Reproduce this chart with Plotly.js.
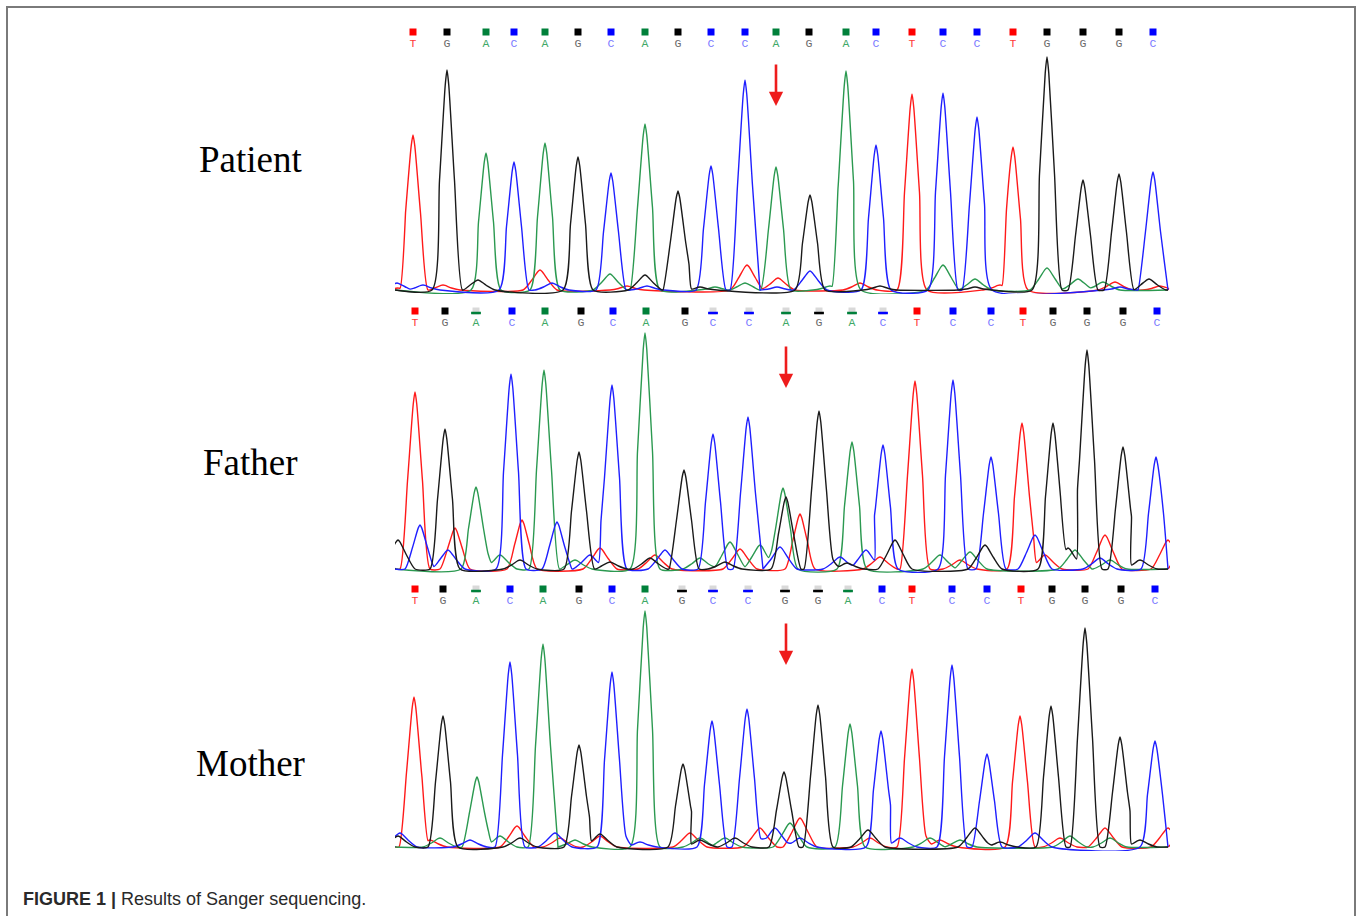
<!DOCTYPE html>
<html>
<head>
<meta charset="utf-8">
<script src="https://cdn.plot.ly/plotly-3.0.1.min.js"></script>
<style>
html,body{margin:0;padding:0;background:#fff;}
#chart{width:1360px;height:916px;}
</style>
</head>
<body>
<div id="chart"></div>
<script>
// ---------- DATA ----------
const panelNames = ["Patient", "Father", "Mother"];

const patientBases = ["T","G","A","C","A","G","C","A","G","C","C","A","G","A","C","T","C","C","T","G","G","G","C"];
const fatherBases  = ["T","G","A","C","A","G","C","A","G","C","C","A","G","A","C","T","C","C","T","G","G","G","C"];
const motherBases  = ["T","G","A","C","A","G","C","A","G","C","C","G","G","A","C","T","C","C","T","G","G","G","C"];

const patientBasePos = [413,447,486,514,545,578,611,645,678,711,745,776,809,846,876,912,943,977,1013,1047,1083,1119,1153];
const fatherBasePos  = [415,445,476,512,545,581,613,646,685,713,749,786,819,852,883,917,953,991,1023,1053,1087,1123,1157];
const motherBasePos  = [415,443,476,510,543,579,612,645,682,713,748,785,818,848,882,912,952,987,1021,1052,1085,1121,1155];

const patientQual = [1,1,1,1,1,1,1,1,1,1,1,1,1,1,1,1,1,1,1,1,1,1,1];
const fatherQual  = [1,1,0,1,1,1,1,1,1,0,0,0,0,0,0,1,1,1,1,1,1,1,1];
const motherQual  = [1,1,0,1,1,1,1,1,0,0,0,0,0,0,1,1,1,1,1,1,1,1,1];

// peaks per dye channel: [scan position, signal height]
const patientT = [[398,3],[413,156],[443,6],[540,21],[627,5],[747,26],[778,13],[860,8],[912,197],[1000,6],[1013,144],[1115,9],[1160,5]];
const patientG = [[447,221],[478,11],[578,134],[645,16],[678,100],[700,4],[810,96],[880,5],[975,4],[1047,234],[1083,111],[1119,117],[1149,12]];
const patientA = [[486,138],[545,148],[610,17],[645,167],[715,4],[745,8],[776,124],[830,5],[846,220],[943,26],[975,12],[1047,23],[1078,12],[1103,9]];
const patientC = [[397,8],[423,6],[514,129],[552,8],[611,118],[647,5],[711,125],[745,211],[777,4],[810,20],[876,146],[943,198],[977,174],[1120,4],[1153,119]];

const fatherT = [[415,178],[455,42],[522,50],[600,22],[655,15],[740,21],[800,56],[880,13],[915,189],[960,10],[1022,147],[1045,15],[1105,35],[1168,30]];
const fatherG = [[398,30],[445,141],[520,10],[579,118],[610,8],[650,12],[684,100],[725,8],[786,73],[819,159],[847,7],[895,30],[985,25],[1053,147],[1068,22],[1087,220],[1123,123],[1140,10]];
const fatherA = [[476,83],[500,15],[544,200],[575,10],[645,237],[700,12],[730,28],[760,25],[783,82],[852,128],[940,15],[970,18],[1075,20],[1110,10]];
const fatherC = [[420,45],[448,20],[511,196],[557,48],[590,15],[612,185],[665,20],[713,136],[748,153],[780,23],[840,13],[866,20],[883,125],[953,190],[991,113],[1035,35],[1100,12],[1156,113]];

const motherT = [[414,151],[430,8],[517,22],[560,10],[600,12],[690,15],[760,20],[800,30],[870,10],[912,179],[940,8],[1020,132],[1060,10],[1105,20],[1168,20]];
const motherG = [[398,12],[443,132],[520,10],[579,103],[600,14],[683,84],[700,8],[735,10],[784,76],[818,143],[868,18],[975,20],[1000,6],[1051,142],[1085,220],[1120,111],[1140,8]];
const motherA = [[440,10],[477,71],[500,12],[543,204],[575,8],[645,237],[700,10],[725,10],[790,25],[850,124],[930,10],[960,8],[1070,12],[1110,10]];
const motherC = [[400,15],[470,8],[510,186],[555,15],[612,176],[640,6],[712,127],[747,139],[775,20],[800,10],[881,117],[900,10],[952,183],[987,94],[1035,15],[1155,107]];

// ---------- STYLE ----------
const dyeColor  = {T:"#ff1a1a", G:"#1a1a1a", A:"#2b9950", C:"#1f1fff"};
const boxColor  = {T:"#ff0000", G:"#000000", A:"#00803a", C:"#0000ff"};
const textColor = {T:"#ff3b3b", G:"#6a6a6a", A:"#3fa868", C:"#7a7aff"};

const W = 1360, H = 916;
const X0 = 395, X1 = 1170;
const YMIN = -3, YMAX = 266;
const panels = [
  {name:panelNames[0], base:291, bases:patientBases, pos:patientBasePos, q:patientQual, ch:{T:patientT,G:patientG,A:patientA,C:patientC}, arrowX:776, arrowTip:106, labelY:160},
  {name:panelNames[1], base:570, bases:fatherBases,  pos:fatherBasePos,  q:fatherQual,  ch:{T:fatherT,G:fatherG,A:fatherA,C:fatherC},   arrowX:786, arrowTip:388, labelY:462},
  {name:panelNames[2], base:848, bases:motherBases,  pos:motherBasePos,  q:motherQual,  ch:{T:motherT,G:motherG,A:motherA,C:motherC},   arrowX:786, arrowTip:665, labelY:763}
];

function halfWidth(h){ return h < 40 ? 17 : 15; }

function buildCurve(peaks){
  const p = peaks.slice().sort((a,b)=>a[0]-b[0]);
  const xs=[X0], ys=[1];
  for(let i=0;i<p.length;i++){
    const x = p[i][0], h = p[i][1], w = halfWidth(h);
    const prev = p[i-1], next = p[i+1];
    const joinPrev = prev && (x-prev[0]) < (w + halfWidth(prev[1]));
    const joinNext = next && (next[0]-x) < (w + halfWidth(next[1]));
    if(!joinPrev){ xs.push(Math.max(X0, x-w)); ys.push(1); }
    if(!prev || (x-prev[0]) >= w){ xs.push(x - w*0.5); ys.push(Math.max(1,h*0.5)); }
    xs.push(x - w*0.12); ys.push(h*0.93);
    xs.push(x); ys.push(h);
    xs.push(x + w*0.12); ys.push(h*0.93);
    if(!next || (next[0]-x) >= w){ xs.push(x + w*0.5); ys.push(Math.max(1,h*0.5)); }
    if(joinNext){
      const gap = next[0]-x, wn = halfWidth(next[1]);
      const v = Math.max(1, h*(1-gap/2/w), next[1]*(1-gap/2/wn));
      xs.push((x+next[0])/2); ys.push(v);
    } else {
      xs.push(Math.min(X1-2, x+w)); ys.push(1);
    }
  }
  xs.push(X1-2); ys.push(1);
  return {xs, ys};
}

const traces = [];
const layout = {
  width:W, height:H, margin:{l:0,r:0,t:0,b:0},
  paper_bgcolor:"#fff", plot_bgcolor:"rgba(0,0,0,0)",
  showlegend:false, shapes:[], annotations:[]
};

panels.forEach((pn, k)=>{
  const sx = k===0 ? "" : String(k+1);
  const xa = "x"+sx, ya = "y"+sx;
  const bottomPx = pn.base - YMIN, topPx = pn.base - YMAX;
  layout["xaxis"+sx] = {domain:[X0/W, X1/W], range:[X0, X1], visible:false, fixedrange:true};
  layout["yaxis"+sx] = {domain:[1-bottomPx/H, 1-topPx/H], range:[YMIN, YMAX], visible:false, fixedrange:true};

  ["T","A","C","G"].forEach(d=>{
    const c = buildCurve(pn.ch[d]);
    traces.push({type:"scatter", mode:"lines", x:c.xs, y:c.ys, xaxis:xa, yaxis:ya,
      line:{color:dyeColor[d], width:1.4, shape:"spline", smoothing:0.6}, hoverinfo:"skip"});
  });

  // quality boxes
  const boxCols = pn.bases.map((b,i)=> pn.q[i] ? boxColor[b] : "#d9d9d9");
  traces.push({type:"scatter", mode:"markers", x:pn.pos, y:pn.pos.map(()=>259), xaxis:xa, yaxis:ya, cliponaxis:false,
    marker:{symbol:"square", size:7, color:boxCols, line:{width:0}}, hoverinfo:"skip"});
  const lowX = [], lowC = [];
  pn.bases.forEach((b,i)=>{ if(!pn.q[i]){ lowX.push(pn.pos[i]); lowC.push(boxColor[b]); } });
  if(lowX.length){
    traces.push({type:"scatter", mode:"markers", x:lowX, y:lowX.map(()=>257), xaxis:xa, yaxis:ya, cliponaxis:false,
      marker:{symbol:"line-ew", size:7, color:lowC, line:{width:2.5, color:lowC}}, hoverinfo:"skip"});
  }
  // base letters
  traces.push({type:"scatter", mode:"text", x:pn.pos, y:pn.pos.map(()=>247), xaxis:xa, yaxis:ya, cliponaxis:false,
    text:pn.bases, textposition:"middle center",
    textfont:{family:"Liberation Mono, DejaVu Sans Mono, monospace", size:11.5, color:pn.bases.map(b=>textColor[b])},
    hoverinfo:"skip"});

  // red arrow marking the variant
  layout.annotations.push({xref:xa, yref:ya, x:pn.arrowX, y:pn.base-pn.arrowTip,
    ax:0, ay:-43, showarrow:true, arrowhead:2, arrowsize:1.1, arrowwidth:2.6, arrowcolor:"#ee1c1c", text:""});

  // panel name
  layout.annotations.push({xref:"paper", yref:"paper", x:250/W, y:1-pn.labelY/H, xanchor:"center", yanchor:"middle",
    showarrow:false, text:pn.name, font:{family:"Liberation Serif, Times New Roman, serif", size:37, color:"#000"}});
});

// caption
layout.annotations.push({xref:"paper", yref:"paper", x:21/W, y:1-899/H, xanchor:"left", yanchor:"middle", showarrow:false,
  text:"<b>FIGURE 1 |</b> Results of Sanger sequencing.",
  font:{family:"Liberation Sans, Arial, sans-serif", size:18, color:"#2a2a2a"}});

// figure border
const bc = "#7a7a7a";
layout.shapes.push({type:"line", xref:"paper", yref:"paper", x0:7/W, x1:1355/W, y0:1-7/H, y1:1-7/H, line:{color:bc, width:2}});
layout.shapes.push({type:"line", xref:"paper", yref:"paper", x0:7/W, x1:7/W, y0:1-6/H, y1:0, line:{color:bc, width:2}});
layout.shapes.push({type:"line", xref:"paper", yref:"paper", x0:1355/W, x1:1355/W, y0:1-6/H, y1:0, line:{color:bc, width:2}});

Plotly.newPlot("chart", traces, layout, {staticPlot:true, displayModeBar:false});
</script>
</body>
</html>
